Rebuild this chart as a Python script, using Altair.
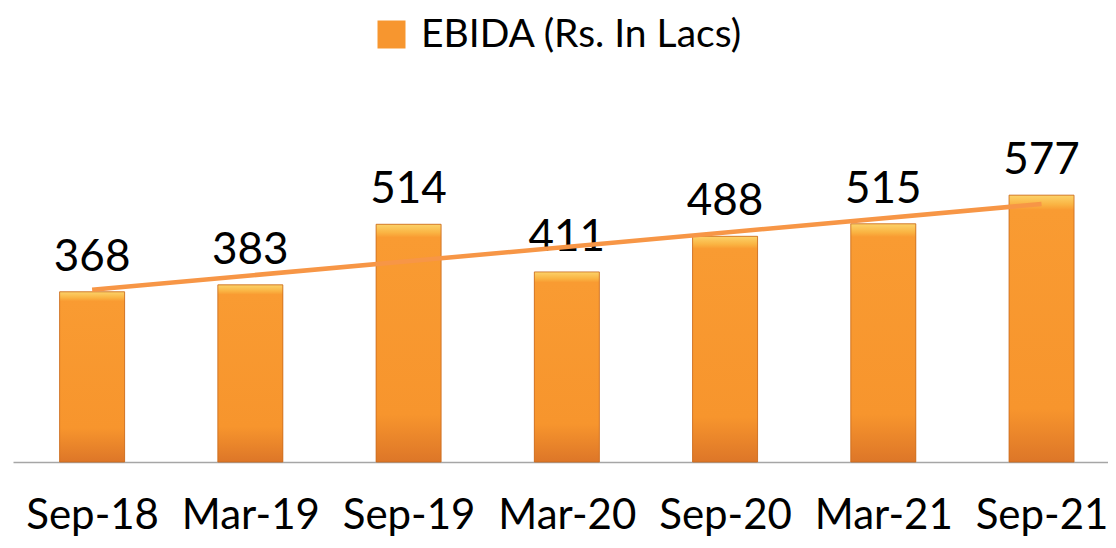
import json
import altair as alt
import pandas as pd

periods = ["Sep-18", "Mar-19", "Sep-19", "Mar-20", "Sep-20", "Mar-21", "Sep-21"]
ebida = [368, 383, 514, 411, 488, 515, 577]
series_name = "EBIDA (Rs. In Lacs)"

df = pd.DataFrame({
    "idx": list(range(len(periods))),
    "period": periods,
    "ebida": ebida,
    "series": [series_name] * len(periods),
})

FONT = "Lato"
label_expr = json.dumps(periods).replace('"', "'") + "[datum.value]"

x = alt.X(
    "idx:Q",
    scale=alt.Scale(domain=[-0.5, 6.42], nice=False, zero=False, padding=0),
    axis=alt.Axis(
        values=list(range(len(periods))),
        labelExpr=label_expr,
        title=None,
        ticks=False,
        tickSize=0,
        grid=False,
        domainColor="#A6A6A6",
        domainWidth=1.5,
        labelFontSize=42,
        labelFont=FONT,
        labelColor="black",
        labelPadding=33,
        labelFlush=False,
        labelOverlap=False,
    ),
)
y = alt.Y("ebida:Q", scale=alt.Scale(domain=[0, 800], nice=False, padding=0), axis=None)

base = alt.Chart(df)

legend_bars = base.mark_bar(size=65).encode(
    x=x,
    y=y,
    color=alt.Color(
        "series:N",
        scale=alt.Scale(range=["#F7962F"]),
        legend=alt.Legend(
            title=None,
            orient="none",
            legendX=359,
            legendY=-77,
            symbolType="square",
            symbolSize=784,
            symbolStrokeWidth=0,
            labelFontSize=39,
            labelFont=FONT,
            labelColor="black",
            labelOffset=10,
            labelLimit=700,
            padding=0,
        ),
    ),
)

grad_bars = base.mark_bar(
    size=65,
    fill=alt.Gradient(
        gradient="linear",
        x1=0, x2=0, y1=0, y2=1,
        stops=[
            alt.GradientStop(offset=0, color="#FCD36A"),
            alt.GradientStop(offset=0.035, color="#FAB443"),
            alt.GradientStop(offset=0.055, color="#F99B32"),
            alt.GradientStop(offset=0.8, color="#F7952D"),
            alt.GradientStop(offset=1, color="#DD7628"),
        ],
    ),
    stroke="#C8691E",
    strokeWidth=0.8,
).encode(x=x, y=y)

labels = base.mark_text(
    fontSize=44, font=FONT, color="black", baseline="alphabetic", dy=-21
).encode(x=x, y=y, text="ebida:Q")

trend = base.transform_regression("idx", "ebida", method="linear").mark_line(
    color="#F79646", strokeWidth=4.5
).encode(x=x, y=y)

chart = (
    alt.layer(legend_bars, grad_bars, labels, trend)
    .properties(
        width=1095,
        height=370,
        autosize=alt.AutoSizeParams(type="none"),
        padding={"left": 5, "top": 84, "right": 0, "bottom": 78},
        background="white",
    )
    .configure_view(stroke=None)
)

chart.save("out.html", embed_options={"renderer": "svg", "actions": False})
